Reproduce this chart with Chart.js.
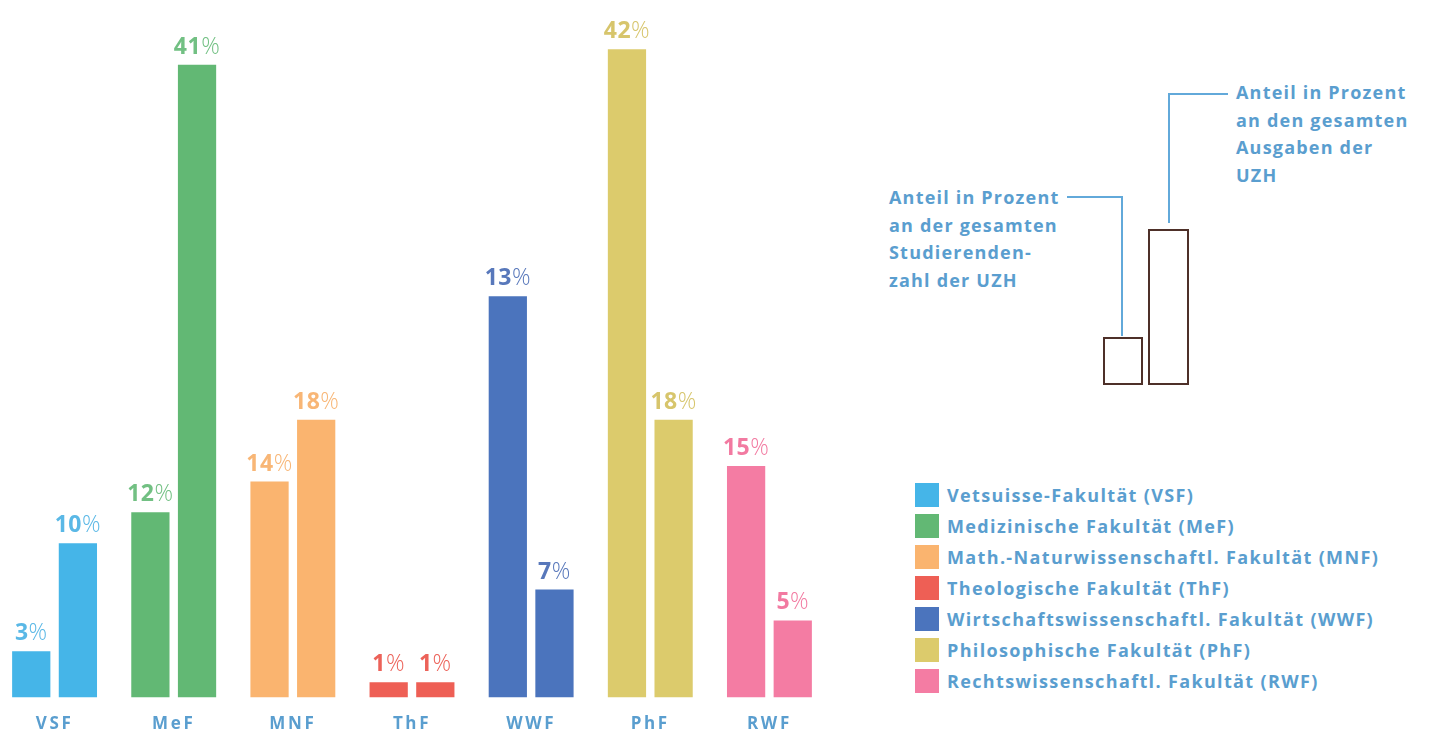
<!DOCTYPE html>
<html>
<head>
<meta charset="utf-8">
<script src="https://cdn.jsdelivr.net/npm/chart.js@4"></script>
<style>
  html, body { margin:0; padding:0; background:#ffffff; width:1429px; height:729px; overflow:hidden; position:relative; }
  #wrap { position:absolute; left:-5px; top:0; width:834px; height:750px; }
  .txt { position:absolute; font-family:"Open Sans", sans-serif; font-weight:700; color:#5a9ecf; font-size:18px; white-space:nowrap; line-height:27.5px; letter-spacing:1.2px; }
  .leg-row { position:absolute; left:915px; height:24px; }
  .leg-sq { position:absolute; left:0; top:0; width:24px; height:24px; }
  .leg-tx { position:absolute; left:32px; top:-2px; font-family:"Open Sans", sans-serif; font-weight:700; color:#5a9ecf; font-size:18px; line-height:28px; white-space:nowrap; letter-spacing:1.35px; }
  .line { position:absolute; background:#62a9da; }
  .box { position:absolute; border:2.5px solid #4e3029; box-sizing:border-box; }
</style>
</head>
<body>
<div id="wrap"><canvas id="c"></canvas></div>
<div id="legend"></div>

<!-- explanatory key -->
<div class="txt" style="left:889px; top:184px;">Anteil in Prozent<br>an der gesamten<br>Studierenden-<br>zahl der UZH</div>
<div class="txt" style="left:1236px; top:79px;">Anteil in Prozent<br>an den gesamten<br>Ausgaben der<br>UZH</div>
<div class="line" style="left:1067px; top:196px; width:56px; height:2px;"></div>
<div class="line" style="left:1121px; top:196px; width:2px; height:140px;"></div>
<div class="line" style="left:1168px; top:93px; width:60px; height:2px;"></div>
<div class="line" style="left:1168px; top:93px; width:2px; height:130px;"></div>
<div class="box" style="left:1103px; top:337px; width:40px; height:48px;"></div>
<div class="box" style="left:1148px; top:229px; width:41px; height:156px;"></div>

<script>
// ---- data ----
const categories = ["VSF", "MeF", "MNF", "ThF", "WWF", "PhF", "RWF"];
const faculties = [
  "Vetsuisse-Fakultät (VSF)",
  "Medizinische Fakultät (MeF)",
  "Math.-Naturwissenschaftl. Fakultät (MNF)",
  "Theologische Fakultät (ThF)",
  "Wirtschaftswissenschaftl. Fakultät (WWF)",
  "Philosophische Fakultät (PhF)",
  "Rechtswissenschaftl. Fakultät (RWF)"
];
// share of total students (%) — printed labels
const studentShare = [3, 12, 14, 1, 13, 42, 15];
// bar heights as drawn in the original (WWF bar is printed at ~26 % height although labelled 13 %)
const studentBarHeight = [3, 12, 14, 1, 26, 42, 15];
// share of total expenses (%)
const expenseShare = [10, 41, 18, 1, 7, 18, 5];

const barColors   = ["#45b5e8", "#62b874", "#fab46f", "#ee5f55", "#4b74bd", "#dccb6c", "#f47ca3"];
const labelColors = ["#5ab8e6", "#72c083", "#f8b676", "#ec6259", "#5878bb", "#d7c56c", "#f27aa1"];

// ---- legend (HTML) ----
const legend = document.getElementById("legend");
faculties.forEach((name, i) => {
  const row = document.createElement("div");
  row.className = "leg-row";
  row.style.top = (483 + i * 31) + "px";
  const sq = document.createElement("div");
  sq.className = "leg-sq";
  sq.style.background = barColors[i];
  const tx = document.createElement("div");
  tx.className = "leg-tx";
  tx.textContent = name;
  row.appendChild(sq); row.appendChild(tx);
  legend.appendChild(row);
});

// ---- letter spacing for axis labels ----
const spacing = {
  id: "spacing",
  beforeDraw(chart) { chart.ctx.letterSpacing = "2.6px"; },
  afterDraw(chart) { chart.ctx.letterSpacing = "0px"; }
};

// ---- value label plugin ----
const valueLabels = {
  id: "valueLabels",
  afterDatasetsDraw(chart) {
    const ctx = chart.ctx;
    chart.data.datasets.forEach((ds, di) => {
      const meta = chart.getDatasetMeta(di);
      meta.data.forEach((bar, i) => {
        const num = String(ds.labelValues[i]);
        ctx.save();
        ctx.letterSpacing = "0.5px";
        ctx.textBaseline = "alphabetic";
        ctx.font = "700 23px 'Open Sans', sans-serif";
        const wNum = ctx.measureText(num).width;
        ctx.font = "300 23px 'Open Sans', sans-serif";
        const wPct = ctx.measureText("%").width;
        const x0 = bar.x - (wNum + wPct) / 2;
        const y = bar.y - 11;
        ctx.fillStyle = labelColors[i];
        ctx.font = "700 23px 'Open Sans', sans-serif";
        ctx.textAlign = "left";
        ctx.fillText(num, x0, y);
        ctx.font = "300 23px 'Open Sans', sans-serif";
        ctx.fillText("%", x0 + wNum, y);
        ctx.restore();
      });
    });
  }
};

new Chart(document.getElementById("c"), {
  type: "bar",
  data: {
    labels: categories,
    datasets: [
      { label: "Studierende", data: studentBarHeight, labelValues: studentShare,
        backgroundColor: barColors, borderWidth: 0,
        categoryPercentage: 0.783, barPercentage: 0.82 },
      { label: "Ausgaben", data: expenseShare, labelValues: expenseShare,
        backgroundColor: barColors, borderWidth: 0,
        categoryPercentage: 0.783, barPercentage: 0.82 }
    ]
  },
  options: {
    responsive: true,
    maintainAspectRatio: false,
    animation: false,
    layout: { padding: { top: 3, left: 0, right: 0, bottom: 0 } },
    plugins: { legend: { display: false }, tooltip: { enabled: false } },
    scales: {
      x: {
        grid: { display: false, drawTicks: false },
        border: { display: false },
        ticks: { color: "#5a9ecf", font: { family: "'Open Sans', sans-serif", size: 17, weight: "700" }, padding: 16 }
      },
      y: { display: false, min: 0, max: 45 }
    }
  },
  plugins: [spacing, valueLabels]
});
</script>
</body>
</html>
